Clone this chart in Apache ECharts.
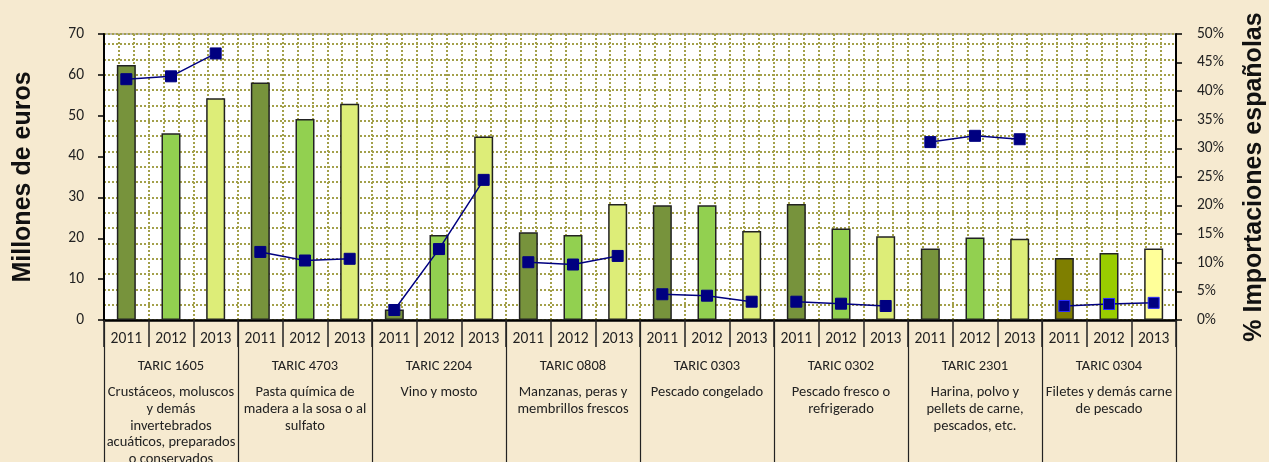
<!DOCTYPE html>
<html>
<head>
<meta charset="utf-8">
<script src="https://cdn.jsdelivr.net/npm/echarts@6/dist/echarts.min.js"></script>
<style>
html,body{margin:0;padding:0;background:#f6ead0;}
#chart{width:1269px;height:462px;}
</style>
</head>
<body>
<div id="chart"></div>
<script>
// ---- data ----
const years = ['2011','2012','2013','2011','2012','2013','2011','2012','2013','2011','2012','2013',
               '2011','2012','2013','2011','2012','2013','2011','2012','2013','2011','2012','2013'];
const groupCodes = ['TARIC 1605','TARIC 4703','TARIC 2204','TARIC 0808','TARIC 0303','TARIC 0302','TARIC 2301','TARIC 0304'];
const groupDescs = [
  'Crustáceos, moluscos\ny demás\ninvertebrados\nacuáticos, preparados\no conservados',
  'Pasta química de\nmadera a la sosa o al\nsulfato',
  'Vino y mosto',
  'Manzanas, peras y\nmembrillos frescos',
  'Pescado congelado',
  'Pescado fresco o\nrefrigerado',
  'Harina, polvo y\npellets de carne,\npescados, etc.',
  'Filetes y demás carne\nde pescado'
];
// Millones de euros
const importsMEUR = [62.4, 45.7, 54.3,  58.1, 49.2, 52.9,  2.6, 20.8, 44.9,  21.5, 20.8, 28.4,
                     28.1, 28.1, 21.8,  28.4, 22.4, 20.5,  17.5, 20.2, 19.9,  15.2, 16.4, 17.5];
// % Importaciones españolas
const sharePct = [42.1, 42.6, 46.6,  11.9, 10.4, 10.7,  1.75, 12.4, 24.5,  10.1, 9.7, 11.2,
                  4.5, 4.25, 3.2,  3.2, 2.85, 2.45,  31.1, 32.2, 31.6,  2.45, 2.8, 3.0];
const leftTicks = [0, 70, 10];
const rightTicks = [0, 50, 5];

// ---- styles ----
const yearColors = ['#77933c', '#92d050', '#dded78'];
const lastGroupColors = ['#7f7f00', '#99cc00', '#ffff99'];
const FONT = 'Carlito, Lato, sans-serif';

const chart = echarts.init(document.getElementById('chart'));

const barData = importsMEUR.map((v, i) => {
  const g = Math.floor(i / 3), y = i % 3;
  return { value: v, itemStyle: { color: g === 7 ? lastGroupColors[y] : yearColors[y] } };
});

const lineSeries = groupCodes.map((code, g) => ({
  type: 'line',
  name: code,
  xAxisIndex: 0,
  yAxisIndex: 1,
  data: sharePct.map((v, i) => Math.floor(i / 3) === g ? v : null),
  connectNulls: false,
  symbol: 'rect',
  symbolSize: 11,
  lineStyle: { color: '#000080', width: 1.5 },
  itemStyle: { color: '#000080', borderColor: g === 7 ? '#2a2aff' : '#000080', borderWidth: 1 },
  z: 5,
  silent: true
}));

const gridDot = { show: true, lineStyle: { color: '#a3a04a', width: 2, type: [2, 2] } };

chart.setOption({
  animation: false,
  backgroundColor: '#f6ead0',
  grid: { left: 104, right: 93, top: 34, bottom: 142, outerBoundsMode: 'none', containLabel: false,
          show: true, backgroundColor: '#ffffff', borderColor: '#7a7a7a', borderWidth: 1 },
  xAxis: [
    {
      type: 'category', data: years, position: 'bottom', gridIndex: 0,
      axisLine: { lineStyle: { color: '#000', width: 2.5 } },
      axisTick: { show: true, interval: 0, length: 27, lineStyle: { color: '#222', width: 1.5 } },
      axisLabel: { interval: 0, margin: 11, fontFamily: FONT, fontSize: 15.5, color: '#222' },
      splitLine: { show: false }
    },
    {
      type: 'category', data: groupCodes, position: 'bottom', gridIndex: 0,
      axisLine: { show: false },
      axisTick: { show: true, interval: 0, length: 142, lineStyle: { color: '#222', width: 1.2 } },
      axisLabel: {
        interval: 0, margin: 29, color: '#222', fontFamily: FONT,
        formatter: (val, idx) => '{a|' + val + '}\n{b|' + groupDescs[idx] + '}',
        rich: {
          a: { fontFamily: FONT, fontSize: 14.5, color: '#222', lineHeight: 35 },
          b: { fontFamily: FONT, fontSize: 14.5, color: '#222', lineHeight: 16.8 }
        }
      }
    },
    {
      type: 'value', min: 0, max: 72, interval: 1, position: 'top', gridIndex: 0,
      axisLine: { show: false }, axisTick: { show: false }, axisLabel: { show: false },
      splitLine: gridDot, z: 0
    }
  ],
  yAxis: [
    {
      type: 'value', min: leftTicks[0], max: leftTicks[1], interval: leftTicks[2],
      name: 'Millones de euros', nameLocation: 'middle', nameRotate: 90, nameGap: 68,
      nameTextStyle: { fontFamily: 'Liberation Sans, Arial, sans-serif', fontWeight: 'bold', fontSize: 25, color: '#111' },
      axisLine: { show: true, lineStyle: { color: '#000', width: 2 } },
      axisTick: { show: true, length: 6, lineStyle: { color: '#000', width: 1.5 } },
      axisLabel: { margin: 20, fontFamily: FONT, fontSize: 15.5, color: '#222' },
      splitLine: { show: false }
    },
    {
      type: 'value', min: rightTicks[0], max: rightTicks[1], interval: rightTicks[2], position: 'right',
      name: '% Importaciones españolas', nameLocation: 'middle', nameRotate: 90, nameGap: 66,
      nameTextStyle: { fontFamily: 'Liberation Sans, Arial, sans-serif', fontWeight: 'bold', fontSize: 25, color: '#111' },
      axisLine: { show: true, lineStyle: { color: '#000', width: 2 } },
      axisTick: { show: true, length: 6, lineStyle: { color: '#000', width: 1.5 } },
      axisLabel: { margin: 21, fontFamily: FONT, fontSize: 15.5, color: '#222', formatter: '{value}%' },
      splitLine: { show: false }
    },
    {
      type: 'value', min: 0, max: 18.66, interval: 1, position: 'left', offset: 0,
      axisLine: { show: false }, axisTick: { show: false }, axisLabel: { show: false },
      splitLine: gridDot, z: 0
    }
  ],
  series: [
    {
      type: 'bar', xAxisIndex: 0, yAxisIndex: 0, data: barData, barWidth: 19,
      itemStyle: { borderColor: '#222', borderWidth: 1.5 },
      z: 3, silent: true
    }
  ].concat(lineSeries)
});
</script>
</body>
</html>
